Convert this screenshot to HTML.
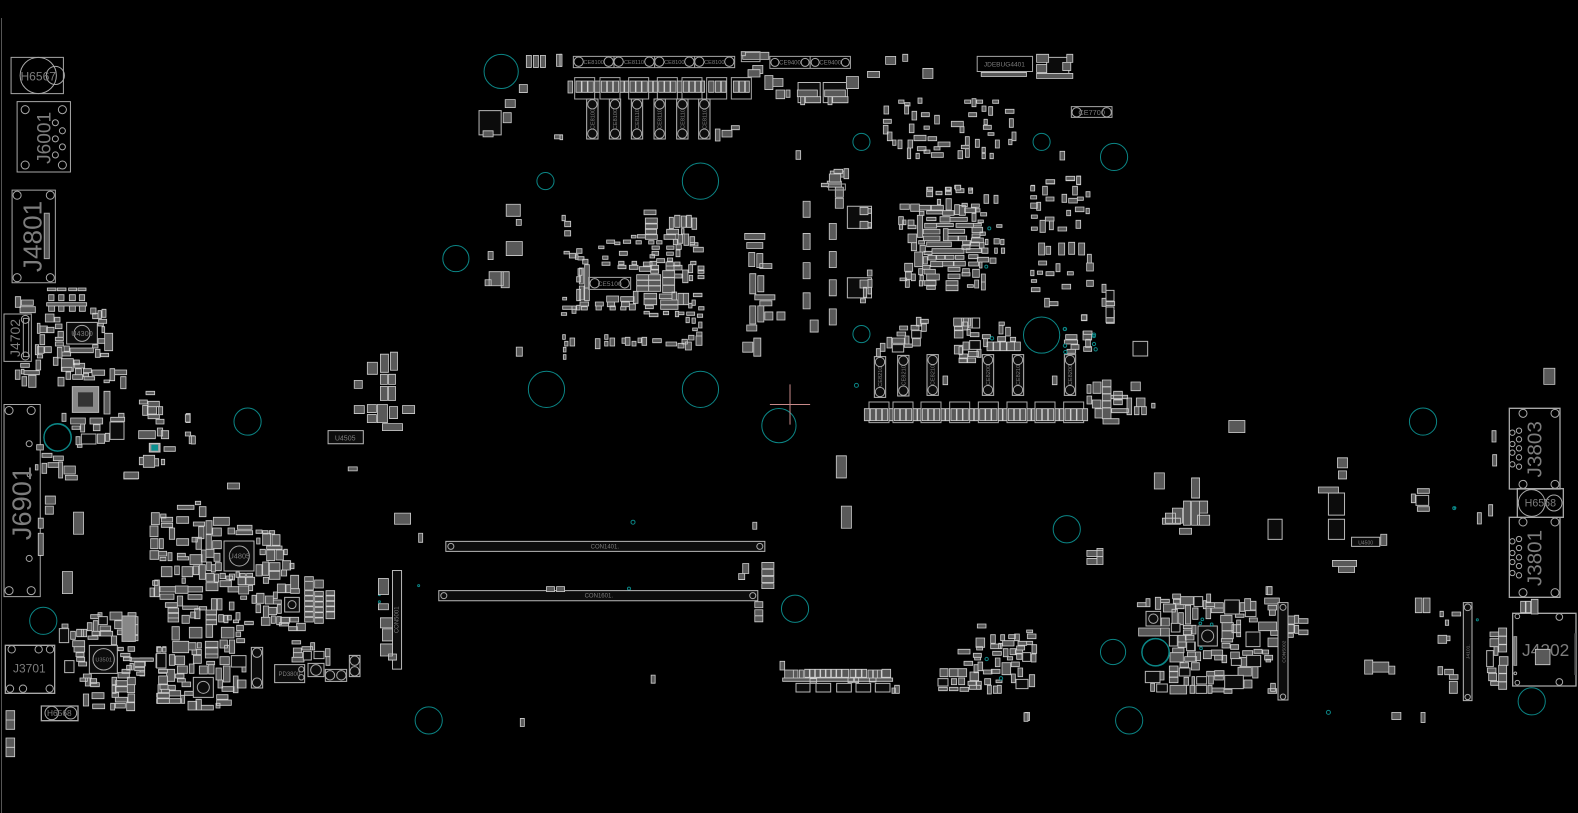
<!DOCTYPE html>
<html><head><meta charset="utf-8"><title>Board</title>
<style>
html,body{margin:0;padding:0;background:#000;width:1578px;height:813px;overflow:hidden}
svg{display:block}
path,rect,circle,line{vector-effect:non-scaling-stroke}
.c{fill:#595959;stroke:#cfcfcf;stroke-width:.8px}
.o{fill:none;stroke:#a8a8a8;stroke-width:1px}
.f{fill:#0c0c0c;stroke:#b8b8b8;stroke-width:1px}
.t{fill:none;stroke:#0b8585;stroke-width:1px}
text{font-family:"Liberation Sans",sans-serif;fill:#7d7d7d}
</style></head><body>
<svg width="1578" height="813" viewBox="0 0 1578 813" xmlns="http://www.w3.org/2000/svg">
<rect width="1578" height="813" fill="#000"/>
<line x1="1.5" y1="18" x2="1.5" y2="813" stroke="#555"/>

<g transform="scale(1.00638 1.00619)">
<g class="t">
<circle cx="498" cy="71" r="17"/><circle cx="542" cy="180" r="8.5"/><circle cx="696" cy="180" r="18"/><circle cx="453" cy="257" r="13"/><circle cx="856" cy="141" r="8.5"/><circle cx="1035" cy="141" r="8.5"/><circle cx="1107" cy="156" r="13.5"/><circle cx="856" cy="332" r="8.5"/><circle cx="1035" cy="333" r="18"/><circle cx="543" cy="387" r="18"/><circle cx="696" cy="387" r="18"/><circle cx="774" cy="423" r="17"/><circle cx="246" cy="419" r="13.5"/><circle cx="57" cy="435" r="13.5"/><circle cx="1414" cy="419" r="13.5"/><circle cx="1060" cy="526" r="13.5"/><circle cx="790" cy="605" r="13.5"/><circle cx="43" cy="617" r="13.5"/><circle cx="1106" cy="648" r="12.5"/><circle cx="1148" cy="648" r="13.5"/><circle cx="426" cy="716" r="13.5"/><circle cx="1122" cy="716" r="13.5"/><circle cx="1522" cy="697" r="13.5"/><circle cx="851" cy="383" r="2"/><circle cx="629" cy="519" r="2"/><circle cx="625" cy="585" r="1.5"/><circle cx="1320" cy="708" r="2"/><circle cx="1445" cy="505" r="1.5"/><circle cx="983" cy="227" r="1.5"/><circle cx="980" cy="265" r="1.5"/><circle cx="1087" cy="334" r="1.5"/><circle cx="1058" cy="327" r="1.5"/><circle cx="416" cy="582" r="1"/><circle cx="377" cy="591" r="1"/><circle cx="377" cy="598" r="1"/><circle cx="1468" cy="616" r="1"/>
</g>
<path d="M785 382V422M765 402H805" stroke="#c88a8a" stroke-width="1" fill="none"/>

<g class="o">
<rect x="11" y="57" width="52" height="36"/><circle cx="38" cy="75" r="18"/><circle cx="55" cy="75" r="9"/>
<rect x="17" y="101" width="53" height="70"/><circle cx="25" cy="109" r="4"/><circle cx="62" cy="109" r="4"/><circle cx="25" cy="164" r="4"/><circle cx="62" cy="164" r="4"/><circle cx="55" cy="122" r="3"/><circle cx="62" cy="130" r="3"/><circle cx="55" cy="138" r="3"/><circle cx="62" cy="146" r="3"/><circle cx="55" cy="154" r="3"/>
<rect x="12" y="189" width="43" height="92"/><circle cx="17" cy="194" r="4"/><circle cx="50" cy="194" r="4"/><circle cx="17" cy="276" r="4"/><circle cx="50" cy="276" r="4"/><rect x="44" y="212" width="5" height="45" fill="#555"/>
<rect x="4" y="402" width="36" height="191"/><circle cx="9" cy="408" r="4"/><circle cx="31" cy="408" r="4"/><circle cx="9" cy="587" r="4"/><circle cx="31" cy="587" r="4"/><circle cx="29" cy="441" r="3"/><circle cx="29" cy="472" r="2"/><circle cx="29" cy="555" r="3"/>
</g>
<text x="38" y="80" font-size="12" text-anchor="middle">H6567</text>
<text transform="translate(50 137) rotate(-90)" font-size="19" text-anchor="middle">J6001</text>
<text transform="translate(41 235) rotate(-90)" font-size="26" text-anchor="middle">J4801</text>
<text transform="translate(31 500) rotate(-90)" font-size="27" text-anchor="middle">J6901</text>

<path class="f" d="M326 428h35v13h-35z"/><text x="343" y="438" font-size="7" text-anchor="middle">U4505</text>
<path class="f" d="M443 538h317v10h-317zM436 587h317v10h-317z"/>
<circle class="o" cx="448" cy="543" r="3"/><circle class="o" cx="755" cy="543" r="3"/><circle class="o" cx="441" cy="592" r="3"/><circle class="o" cx="748" cy="592" r="3"/>
<text x="601" y="545" font-size="6" text-anchor="middle">CON1401.</text><text x="595" y="594" font-size="6" text-anchor="middle">CON1601.</text>

<path class="o" d="M765 56h40v12h-40zM805 56h40v12h-40z"/><text x="785" y="64" font-size="6" text-anchor="middle">CE9400</text><text x="825" y="64" font-size="6" text-anchor="middle">CE9400</text>
<g class="o"><circle cx="770" cy="62" r="4"/><circle cx="800" cy="62" r="4"/><circle cx="810" cy="62" r="4"/><circle cx="840" cy="62" r="4"/></g>
<path class="o" d="M971 56h55v15h-55z"/><text x="998" y="66" font-size="6.5" text-anchor="middle">JDEBUG4401</text>
<path class="f" d="M476 110h22v24h-22zM390 567h9v98h-9zM1040 57h22v18h-22zM793 82h22v20h-22zM818 82h24v20h-24zM1320 490h16v22h-16zM1320 516h16v20h-16zM1260 516h14v20h-14zM842 276h24v20h-24zM842 205h24v22h-24zM1343 534h28v9h-28z"/>
<text transform="translate(396 616) rotate(-90)" font-size="6" text-anchor="middle">CON5001</text>
<text x="1357" y="541" font-size="5" text-anchor="middle">U4500</text>

<path class="c" d="M523 55h5v12h-5zM530 55h5v12h-5zM537 55h5v12h-5zM553 54h5v12h-5zM738 52h26v7h-26zM760 75h8v14h-8zM768 78h10v8h-10zM748 65h10v8h-10zM841 76h12v12h-12zM862 71h12v6h-12zM880 56h10v8h-10zM897 54h5v7h-5zM917 68h10v10h-10zM975 72h45v4h-45zM1030 54h12v8h-12zM1030 64h10v8h-10zM1030 73h36v5h-36zM1060 54h6v8h-6zM1056 62h8v8h-8zM516 84h8v8h-8zM502 99h10v8h-10zM500 112h8v10h-8zM480 130h10v6h-10zM551 134h8v4h-8zM503 203h14v12h-14zM513 218h5v6h-5zM503 240h16v14h-16zM485 250h5v8h-5zM486 270h14v14h-14zM482 278h6v6h-6zM498 270h8v16h-8zM513 345h6v9h-6z"/>
<path class="c" d="M740 232h20v6h-20zM742 241h16v6h-16zM744 251h6v14h-6zM752 252h6v14h-6zM755 262h12v5h-12zM745 272h6v20h-6zM753 274h6v16h-6zM750 293h20v5h-20zM755 299h12v5h-12zM745 304h6v18h-6zM753 304h6v16h-6zM742 323h10v6h-10zM760 310h8v8h-8zM772 310h8v8h-8zM738 340h10v10h-10zM749 336h7v18h-7zM798 200h7v16h-7zM824 222h7v16h-7zM798 232h7v16h-7zM798 261h7v16h-7zM824 250h7v16h-7zM798 291h7v16h-7zM824 278h7v16h-7zM824 307h7v16h-7zM805 318h8v12h-8zM822 180h14v6h-14zM825 170h18v6h-18zM830 197h8v10h-8zM830 186h8v10h-8zM855 297h5v4h-5z"/>
<path class="c" d="M346 464h9v4h-9zM352 378h8v8h-8zM365 360h10v12h-10zM378 352h8v18h-8zM388 350h7v18h-7zM378 372h7v10h-7zM386 372h7v10h-7zM378 384h7v14h-7zM386 384h7v14h-7zM352 403h10v8h-10zM365 402h9v8h-9zM375 402h10v18h-10zM365 412h9v8h-9zM387 404h8v12h-8zM400 403h12v8h-12zM380 421h20v7h-20zM185 411h4v9h-4zM188 433h5v8h-5zM226 480h12v6h-12zM123 470h14v6h-14zM73 509h10v22h-10zM62 568h10v22h-10zM45 493h10v8h-10zM45 503h8v8h-8zM38 515h5v10h-5zM38 530h5v22h-5zM392 510h16v11h-16zM416 530h4v9h-4zM748 519h4v7h-4zM831 453h10v22h-10zM836 503h10v22h-10zM738 560h6v10h-6zM734 570h6v6h-6zM757 559h12v6h-12zM757 566h12v6h-12zM757 573h12v6h-12zM757 580h12v5h-12zM543 583h8v5h-8zM553 583h8v5h-8zM750 598h8v6h-8zM750 606h8v6h-8zM750 612h8v6h-8zM647 671h4v8h-4zM517 714h4v8h-4zM376 575h10v16h-10zM376 600h10v6h-10zM378 614h12v10h-12zM380 625h10v12h-10zM378 640h12v12h-12zM386 650h8v6h-8z"/>
<path class="c" d="M1080 547h16v6h-16zM1090 545h6v16h-6zM1080 555h10v6h-10zM1221 418h16v12h-16zM1147 470h10v16h-10zM1184 475h8v20h-8zM1158 510h10v10h-10zM1165 505h10v15h-10zM1176 498h7v24h-7zM1184 498h8v24h-8zM1192 498h8v12h-8zM1190 512h12v10h-12zM1172 525h12v6h-12zM1155 515h18v6h-18zM1329 455h10v10h-10zM1330 468h8v8h-8zM1310 484h20v6h-20zM1372 531h6v11h-6zM1324 557h24v6h-24zM1330 563h16v6h-16zM1534 366h11v16h-11zM1258 583h6v8h-6zM1383 708h9v7h-9zM1412 708h4v10h-4zM1019 708h4v8h-4zM1356 656h8v14h-8zM1364 658h16v10h-16zM1380 662h6v8h-6z"/>
</g>

<g transform="translate(0 280) scale(.33333)">
<path class="o" d="M12 102h82v142h-82zM70 115h16v115h-16z"/>
<circle class="o" cx="76" cy="118" r="12"/><circle class="o" cx="76" cy="228" r="12"/>
<text transform="translate(60 174) rotate(-90)" font-size="42" text-anchor="middle">J4702</text>
<path class="c" d="M142 24h26v8h-26zM172 24h26v8h-26zM206 24h24v8h-24zM234 24h24v8h-24zM146 44h16v18h-16zM176 44h16v18h-16zM208 44h18v18h-18zM238 44h16v18h-16zM46 50h16v32h-16zM64 60h36v16h-36zM60 80h46v18h-46zM140 68h120v10h-120zM146 78h18v16h-18zM176 78h16v16h-16zM208 78h18v16h-18zM238 78h18v16h-18zM272 84h16v18h-16zM278 100h16v16h-16zM294 92h10v24h-10zM306 88h12v24h-12zM296 118h24v12h-24zM294 130h16v8h-16zM306 140h8v18h-8zM136 102h26v24h-26zM164 112h16v14h-16zM112 130h8v30h-8zM120 138h22v20h-22zM140 142h22v16h-22zM166 132h20v14h-20zM174 154h16v18h-16zM166 172h24v10h-24zM166 186h24v12h-24zM120 164h14v30h-14zM106 194h10v30h-10zM112 200h20v20h-20zM134 200h20v18h-20zM112 224h16v10h-16zM172 202h14v32h-14zM192 198h16v16h-16zM186 216h26v12h-26zM210 204h70v14h-70zM278 194h16v10h-16zM286 208h14v24h-14zM302 220h24v10h-24zM294 176h20v14h-20zM314 160h24v52h-24zM160 232h14v24h-14zM184 236h36v38h-36zM186 262h30v12h-30zM198 276h14v22h-14zM222 240h16v14h-16zM224 250h30v14h-30zM226 266h18v18h-18zM218 284h30v14h-30zM250 266h24v12h-24zM250 280h16v10h-16zM252 290h32v10h-32zM276 270h38v16h-38zM330 266h14v36h-14zM344 270h36v14h-36zM312 300h16v8h-16zM362 290h16v36h-16zM62 250h26v12h-26zM46 270h14v28h-14zM64 268h8v14h-8zM72 272h46v12h-46zM108 240h14v30h-14zM66 290h14v28h-14zM86 286h22v36h-22zM174 292h18v26h-18z"/>
<path class="c" d="M312 334h18v68h-18zM186 400h12v24h-12zM212 414h44v18h-44zM270 414h38v18h-38zM332 412h42v12h-42zM356 400h16v12h-16zM216 438h24v10h-24zM242 432h12v24h-12zM280 434h20v18h-20zM228 470h12v24h-12zM232 494h14v8h-14zM292 462h22v28h-22zM316 460h12v24h-12zM110 494h20v16h-20zM126 520h30v12h-30zM160 528h30v14h-30zM144 548h32v14h-32zM176 546h12v48h-12zM126 550h14v30h-14zM106 554h8v16h-8zM192 558h34v24h-34zM196 586h36v14h-36zM372 576h44v20h-44zM438 334h26v10h-26zM418 360h24v12h-24zM444 364h34v16h-34zM428 376h14v30h-14zM444 380h26v22h-26zM476 380h12v24h-12zM444 404h34v12h-34zM468 418h24v14h-24zM416 452h50v24h-50zM472 444h16v24h-16zM484 452h22v24h-22zM556 404h14v22h-14zM556 456h16v12h-16zM574 468h12v24h-12zM492 500h34v14h-34zM418 532h12v22h-12zM430 526h34v36h-34zM464 536h12v22h-12zM484 538h10v16h-10z"/>
<path class="f" d="M200 127h92v65h-92z"/><circle class="o" cx="246" cy="160" r="24"/><text x="246" y="168" font-size="22" text-anchor="middle">U4300</text>
<path d="M217 320h79v77h-79z" fill="#888" stroke="#bbb" stroke-width="1"/><path d="M234 337h45v43h-45z" fill="#333"/>
<path class="f" d="M330 426h42v52h-42zM244 462h44v30h-44z"/>
<path d="M448 490h32v26h-32z" fill="#999" stroke="#ccc" stroke-width="1"/><path d="M454 494h20v18h-20z" fill="#0b8f8f"/>
<circle class="t" cx="173" cy="472" r="41" style="stroke-width:1.3px"/>
</g>

<g transform="translate(140 490) scale(.33333)">
<path class="c" d="M112 46h50v12h-50zM166 34h16v10h-16zM178 50h20v30h-20zM34 68h24v36h-24zM62 72h16v12h-16zM64 82h34v14h-34zM64 100h34v12h-34zM110 80h36v20h-36zM88 114h16v34h-16zM30 108h24v32h-24zM32 146h22v30h-22zM58 146h12v30h-12zM110 146h36v20h-36zM160 96h34v12h-34zM198 92h18v40h-18zM176 110h16v36h-16zM198 134h16v44h-16zM156 142h16v14h-16zM168 142h16v36h-16zM220 82h48v24h-48zM218 114h26v24h-26zM264 114h20v18h-20zM218 152h26v24h-26zM292 106h44v12h-44zM288 122h50v12h-50zM348 120h18v10h-18zM368 122h16v10h-16zM388 122h16v10h-16zM30 182h26v26h-26zM56 184h24v14h-24zM60 202h18v10h-18zM84 188h12v24h-12zM112 190h24v10h-24zM112 200h34v10h-34zM150 194h36v30h-36zM184 180h14v36h-14zM198 178h24v24h-24zM222 190h18v24h-18zM226 218h18v24h-18zM200 216h14v26h-14zM214 224h12v22h-12zM64 230h32v30h-32zM104 228h14v26h-14zM126 230h32v30h-32zM160 228h16v26h-16zM178 224h18v44h-18zM350 144h10v18h-10zM368 130h24v36h-24zM396 134h24v32h-24zM360 178h16v16h-16zM380 168h46v10h-46zM380 180h24v32h-24zM408 180h22v30h-22zM432 178h10v16h-10zM388 218h32v24h-32zM388 244h32v24h-32zM348 224h18v34h-18zM368 216h18v40h-18zM424 240h16v18h-16zM428 212h24v28h-24zM450 220h12v16h-12z"/>
<path class="c" d="M198 250h24v24h-24zM198 278h36v24h-36zM224 252h12v24h-12zM240 250h16v16h-16zM258 258h20v10h-20zM268 252h16v18h-16zM288 246h10v16h-10zM300 250h16v10h-16zM320 250h18v10h-18zM240 272h34v18h-34zM264 290h32v16h-32zM294 262h22v22h-22zM318 262h26v22h-26zM296 288h30v24h-30zM326 286h12v16h-12zM370 262h16v18h-16zM452 256h24v40h-24zM412 282h24v26h-24zM438 284h14v24h-14zM452 296h26v14h-26zM494 260h26v14h-26zM494 274h26v26h-26zM524 270h26v24h-26zM38 272h16v14h-16zM44 270h14v50h-14zM30 294h12v26h-12zM60 290h46v16h-46zM106 288h38v22h-38zM144 290h44v16h-44zM60 312h42v16h-42zM144 314h42v14h-42zM126 264h10v16h-10zM302 318h18v10h-18zM336 316h12v24h-12zM350 310h22v30h-22zM376 318h24v24h-24zM400 306h12v20h-12zM400 330h24v12h-24zM348 344h14v24h-14z"/>
<path class="c" d="M494 302h26v14h-26zM494 318h26v14h-26zM494 334h26v14h-26zM494 350h26v14h-26zM494 366h26v14h-26zM494 382h26v14h-26zM524 304h26v14h-26zM524 320h26v14h-26zM524 336h26v14h-26zM524 352h26v14h-26zM524 368h26v14h-26zM524 384h26v16h-26zM558 302h26v14h-26zM558 318h26v14h-26zM558 334h26v14h-26zM558 350h26v14h-26zM558 366h26v20h-26z"/>
<path class="c" d="M76 338h36v14h-36zM84 354h32v14h-32zM84 370h32v14h-32zM84 384h32v12h-32zM112 318h16v30h-16zM128 348h46v10h-46zM178 350h22v10h-22zM126 376h22v24h-22zM152 366h14v18h-14zM164 356h16v30h-16zM198 360h32v14h-32zM198 375h32v14h-32zM198 390h32v14h-32zM214 326h16v34h-16zM232 326h14v34h-14zM268 336h14v24h-14zM236 374h14v22h-14zM252 376h12v22h-12zM262 376h12v14h-12zM288 368h12v22h-12zM280 390h16v8h-16zM314 394h26v10h-26zM370 348h16v34h-16zM386 352h24v22h-24zM412 344h12v26h-12zM364 382h26v24h-26zM394 378h12v22h-12zM410 380h14v24h-14zM422 382h26v18h-26zM450 382h26v14h-26zM418 398h28v10h-28zM446 410h26v12h-26zM470 400h26v22h-26z"/>
<path class="c" d="M96 410h22v40h-22zM148 412h38v32h-38zM198 404h20v38h-20zM244 412h38v32h-38zM290 406h20v16h-20zM288 426h14v14h-14zM290 446h24v12h-24zM456 452h26v10h-26zM460 474h24v14h-24zM460 488h28v14h-28zM456 502h36v14h-36zM486 470h32v10h-32zM512 458h12v22h-12zM556 476h14v24h-14zM558 500h12v26h-12zM0 504h36v8h-36zM0 514h16v14h-16zM0 532h14v26h-14zM50 470h12v16h-12zM68 470h10v16h-10zM88 494h16v32h-16zM106 498h28v26h-28zM98 454h48v34h-48zM146 458h22v22h-22zM172 458h12v16h-12zM156 480h14v14h-14zM170 478h14v16h-14zM196 454h38v18h-38zM196 474h38v18h-38zM196 492h38v12h-38zM240 450h22v24h-22zM254 466h14v20h-14zM268 450h16v40h-16zM160 496h24v24h-24zM240 500h28v24h-28zM306 522h12v24h-12zM56 538h24v12h-24zM80 538h24v36h-24zM60 558h22v24h-22zM106 552h26v12h-26zM112 566h24v10h-24zM112 528h30v22h-30zM148 522h14v28h-14zM126 576h26v14h-26zM178 528h24v24h-24zM206 524h16v28h-16zM200 514h24v10h-24zM228 534h16v36h-16zM250 528h20v48h-20zM234 570h14v24h-14zM280 558h14v50h-14zM292 570h26v24h-26zM246 590h36v14h-36zM54 584h28v24h-28zM80 586h26v14h-26zM50 610h36v12h-36zM86 602h36v16h-36zM50 626h36v14h-36zM84 626h40v14h-40zM122 616h12v24h-12zM134 604h26v12h-26zM230 614h34v14h-34zM230 630h44v16h-44zM228 640h12v14h-12zM144 634h26v26h-26zM168 628h16v32h-16zM184 646h36v14h-36z"/>
<path class="f" d="M252 153h90v90h-90zM434 322h44v44h-44zM160 562h60v60h-60zM490 484h24v26h-24zM522 484h30v22h-30zM48 492h30v40h-30zM274 497h44v34h-44zM334 472h34v122h-34zM404 524h90v54h-90zM504 520h48v40h-48zM556 538h64v36h-64zM628 496h32v64h-32z"/>
<g class="o"><circle cx="298" cy="198" r="30"/><circle cx="456" cy="344" r="12"/><circle cx="190" cy="592" r="18"/><circle cx="351" cy="488" r="14"/><circle cx="351" cy="578" r="14"/><circle cx="528" cy="540" r="16"/><circle cx="570" cy="556" r="14"/><circle cx="604" cy="556" r="14"/><circle cx="644" cy="512" r="14"/><circle cx="644" cy="544" r="14"/><circle cx="484" cy="538" r="8"/><circle cx="484" cy="562" r="8"/></g>
<text x="298" y="206" font-size="22" text-anchor="middle">U4805</text>
<text x="448" y="558" font-size="18" text-anchor="middle">PD3800</text>
</g>

<g transform="translate(550 200) scale(.33333)">
<path class="c" d="M36 46h10v16h-10zM44 64h18v16h-18zM44 92h18v16h-18zM282 30h36v14h-36zM286 54h36v18h-36zM286 70h36v16h-36zM286 88h34v14h-34zM286 104h36v14h-36zM358 52h12v34h-12zM374 46h16v36h-16zM394 48h14v34h-14zM410 46h14v36h-14zM426 54h14v34h-14zM350 88h36v14h-36zM342 104h36v14h-36zM394 86h8v16h-8zM402 102h14v34h-14zM384 104h14v26h-14zM370 118h12v16h-12zM420 110h14v24h-14zM420 128h24v10h-24zM430 142h30v14h-30zM244 106h14v8h-14zM262 104h24v10h-24zM170 120h24v10h-24zM194 126h16v8h-16zM220 120h22v10h-22zM258 122h16v10h-16zM296 122h16v10h-16zM320 122h16v10h-16zM146 138h16v8h-16zM306 138h22v10h-22zM306 154h20v12h-20zM350 138h22v10h-22zM350 156h20v10h-20zM378 134h16v14h-16zM378 150h12v20h-12zM42 154h16v8h-16zM80 146h16v14h-16zM58 160h20v14h-20zM76 164h8v14h-8zM84 170h18v10h-18zM98 178h16v14h-16zM158 168h16v10h-16zM156 186h24v10h-24zM208 154h24v12h-24zM206 184h16v10h-16zM204 196h24v10h-24zM246 184h14v10h-14zM238 196h26v12h-26zM280 186h26v12h-26zM268 200h34v14h-34zM300 164h14v10h-14zM300 184h20v12h-20zM304 196h22v12h-22zM302 210h24v10h-24zM320 176h24v12h-24zM352 174h16v10h-16zM348 186h22v12h-22zM348 198h24v12h-24zM374 186h16v12h-16zM372 196h24v14h-24zM372 222h24v12h-24zM422 184h16v10h-16zM416 194h12v24h-12zM398 210h16v38h-16zM444 198h18v12h-18zM444 212h18v8h-18zM444 226h18v10h-18zM418 226h10v16h-10zM430 280h26v10h-26z"/>
<path class="c" d="M84 206h12v20h-12zM88 204h12v48h-12zM104 194h14v70h-14zM80 230h12v16h-12zM80 268h12v34h-12zM88 258h14v42h-14zM104 264h14v38h-14zM260 224h36v16h-36zM296 224h36v16h-36zM260 241h36v16h-36zM296 241h36v16h-36zM260 258h36v16h-36zM296 258h36v16h-36zM338 212h36v20h-36zM338 233h36v22h-36zM338 256h36v22h-36zM328 282h38v14h-38zM366 276h14v24h-14zM384 280h16v34h-16zM400 280h16v34h-16zM282 280h38v16h-38zM282 297h38v17h-38zM286 316h24v10h-24zM332 300h52v14h-52zM332 315h52v13h-52zM170 288h36v18h-36zM212 290h40v14h-40zM250 274h14v36h-14zM136 306h24v12h-24zM172 306h22v14h-22zM214 306h24v14h-24zM238 312h18v18h-18zM138 318h16v12h-16zM180 318h16v12h-16zM212 320h16v10h-16zM38 292h12v8h-12zM38 318h40v10h-40zM66 318h12v22h-12zM34 338h16v8h-16zM80 316h10v14h-10zM90 306h26v12h-26zM94 320h18v10h-18zM282 334h16v8h-16zM298 340h26v10h-26zM340 334h16v10h-16zM376 334h10v16h-10zM386 336h16v8h-16zM410 336h24v10h-24zM442 342h16v10h-16zM408 352h10v16h-10zM426 354h10v16h-10zM446 320h16v10h-16zM426 300h10v16h-10zM416 310h10v14h-10zM428 384h14v8h-14zM446 366h10v18h-10zM440 396h16v12h-16zM416 406h16v14h-16zM438 408h18v28h-18zM406 426h18v24h-18zM384 430h18v14h-18zM396 418h16v14h-16zM348 426h32v12h-32zM308 416h26v12h-26zM276 412h14v24h-14zM264 414h10v14h-10zM226 412h14v24h-14zM216 414h10v16h-10zM246 424h12v14h-12zM180 414h14v24h-14zM164 404h10v14h-10zM164 424h10v14h-10zM136 416h14v30h-14zM60 414h14v24h-14zM44 424h10v14h-10zM38 404h8v14h-8zM40 442h8v14h-8zM40 464h8v14h-8z"/>
<path class="o" d="M116 232h126v36h-126z"/><circle class="o" cx="134" cy="250" r="14"/><circle class="o" cx="224" cy="250" r="14"/>
<text x="179" y="258" font-size="20" text-anchor="middle">CE5100</text>
</g>

<g transform="translate(860 170) scale(.33333)">
<path class="c" d="M200 52h18v12h-18zM200 64h18v16h-18zM228 64h18v10h-18zM256 52h18v10h-18zM256 64h18v10h-18zM284 46h18v10h-18zM288 56h24v12h-24zM326 54h12v16h-12zM372 74h14v26h-14zM402 76h12v24h-12zM120 102h28v16h-28zM152 102h26v22h-26zM178 106h34v14h-34zM214 106h36v14h-36zM232 88h10v16h-10zM258 86h16v34h-16zM200 122h48v10h-48zM248 122h34v14h-34zM284 104h14v30h-14zM298 106h18v30h-18zM314 114h34v14h-34zM306 100h16v10h-16zM334 102h24v10h-24zM346 116h14v10h-14zM362 128h18v10h-18zM336 130h12v24h-12zM354 150h16v8h-16zM178 124h14v12h-14zM172 136h16v66h-16zM200 142h28v10h-28zM240 140h30v16h-30zM270 142h52v12h-52zM194 160h36v14h-36zM230 160h50v10h-50zM288 160h52v12h-52zM340 160h24v8h-24zM336 172h32v16h-32zM410 164h16v8h-16zM116 140h14v24h-14zM128 150h10v14h-10zM144 150h18v16h-18zM144 166h24v10h-24zM118 164h10v14h-10zM190 178h50v14h-50zM250 176h14v36h-14zM264 178h50v12h-50zM336 192h24v10h-24zM360 186h16v10h-16zM144 192h26v26h-26zM154 218h16v24h-16zM190 198h50v14h-50zM264 198h30v14h-30zM296 198h24v14h-24zM334 204h36v14h-36zM308 212h24v12h-24zM200 216h74v14h-74zM306 226h24v12h-24zM330 216h28v12h-28zM358 218h14v16h-14zM376 208h8v16h-8zM402 206h16v16h-16zM422 208h10v16h-10zM176 212h18v10h-18zM180 226h16v20h-16zM216 236h96v14h-96zM318 236h46v12h-46zM366 234h18v16h-18zM404 234h8v16h-8zM424 234h10v16h-10zM192 244h24v10h-24zM164 246h24v44h-24zM190 260h12v22h-12zM204 256h24v14h-24zM230 256h24v12h-24zM256 256h26v12h-26zM286 256h26v12h-26zM326 254h28v12h-28zM352 262h34v14h-34zM390 264h18v16h-18zM212 274h36v16h-36zM248 274h34v14h-34zM280 274h36v14h-36zM326 276h30v12h-30zM358 276h8v18h-8zM264 292h36v12h-36zM134 280h24v24h-24zM188 286h22v12h-22zM176 296h12v18h-12zM192 298h34v14h-34zM308 296h20v12h-20zM338 298h20v24h-20zM306 308h24v10h-24zM264 312h36v14h-36zM200 312h38v18h-38zM136 306h18v22h-18zM154 312h12v20h-12zM180 316h10v16h-10zM120 324h20v8h-20zM136 330h12v22h-12zM178 332h10v16h-10zM192 332h36v14h-36zM200 348h26v10h-26zM258 332h36v14h-36zM258 346h36v16h-36zM322 344h18v8h-18zM344 330h12v24h-12zM364 312h12v24h-12zM364 336h12v24h-12zM0 112h24v22h-24zM24 116h10v14h-10zM0 154h24v22h-24zM24 158h10v14h-10zM22 300h14v18h-14zM0 330h24v24h-24zM24 328h12v24h-12zM10 352h10v30h-10zM24 352h10v20h-10z"/>
</g>

<g transform="translate(560 45) scale(.33333)">
<path class="o" d="M40 34h484v34h-484zM162 34v34M284 34v34M404 34v34"/>
<g class="o"><circle cx="56" cy="50" r="14"/><circle cx="146" cy="50" r="14"/><circle cx="176" cy="50" r="14"/><circle cx="268" cy="50" r="14"/><circle cx="298" cy="50" r="14"/><circle cx="388" cy="50" r="14"/><circle cx="418" cy="50" r="14"/><circle cx="508" cy="50" r="14"/></g>
<g font-size="17" text-anchor="middle"><text x="101" y="57">CE8100</text><text x="222" y="57">CE8110</text><text x="343" y="57">CE8100</text><text x="463" y="57">CE8100</text></g>
<path class="o" d="M44 98h60v64h-60zM120 98h60v64h-60zM206 98h60v64h-60zM292 98h60v64h-60zM366 98h60v64h-60zM440 98h60v64h-60zM514 98h60v64h-60z"/>
<path class="c" d="M48 108h16v34h-16zM66 108h16v34h-16zM84 108h16v34h-16zM104 108h16v34h-16zM124 108h16v34h-16zM142 108h16v34h-16zM160 108h16v34h-16zM180 108h12v34h-12zM194 108h12v34h-12zM210 108h16v34h-16zM228 108h16v34h-16zM246 108h16v34h-16zM266 108h12v34h-12zM280 108h12v34h-12zM296 108h16v34h-16zM314 108h16v34h-16zM332 108h16v34h-16zM370 108h16v34h-16zM388 108h16v34h-16zM406 108h16v34h-16zM446 108h16v34h-16zM466 108h16v34h-16zM484 108h14v34h-14zM520 108h16v34h-16zM538 108h16v34h-16zM556 108h12v34h-12zM352 108h14v34h-14zM424 108h10v34h-10z"/>
<path class="f" d="M80 162h34v120h-34zM148 162h34v120h-34zM214 162h34v120h-34zM282 162h34v120h-34zM350 162h34v120h-34zM416 162h34v120h-34z"/>
<g class="o"><circle cx="97" cy="178" r="14"/><circle cx="97" cy="266" r="14"/><circle cx="165" cy="178" r="14"/><circle cx="165" cy="266" r="14"/><circle cx="231" cy="178" r="14"/><circle cx="231" cy="266" r="14"/><circle cx="299" cy="178" r="14"/><circle cx="299" cy="266" r="14"/><circle cx="367" cy="178" r="14"/><circle cx="367" cy="266" r="14"/><circle cx="433" cy="178" r="14"/><circle cx="433" cy="266" r="14"/></g>
<g font-size="17" text-anchor="middle"><text transform="translate(103 222) rotate(-90)">CE8100</text><text transform="translate(171 222) rotate(-90)">CE8100</text><text transform="translate(237 222) rotate(-90)">CE8110</text><text transform="translate(305 222) rotate(-90)">CE8110</text><text transform="translate(373 222) rotate(-90)">CE8110</text><text transform="translate(439 222) rotate(-90)">CE8110</text></g>
<path class="c" d="M24 108h14v36h-14zM466 252h14v36h-14zM486 256h30v20h-30zM514 242h24v12h-24zM0 28h6v36h-6zM0 270h8v14h-8zM564 74h36v22h-36zM544 20h12v12h-12z"/>
<path class="o" d="M544 20h56v30h-56z"/>
</g>

<g transform="translate(1130 580) scale(.33333)">
<path class="c" d="M22 68h26v12h-26zM48 56h12v24h-12zM76 52h16v36h-16zM92 58h26v10h-26zM100 72h36v24h-36zM128 42h24v14h-24zM130 58h20v12h-20zM152 50h38v24h-38zM220 62h8v24h-8zM230 42h12v24h-12zM228 68h26v12h-26zM254 68h26v16h-26zM244 84h36v14h-36zM330 68h14v26h-14zM344 56h18v36h-18zM362 64h16v26h-16zM228 84h14v32h-14zM188 84h16v34h-16zM146 98h14v36h-14zM166 76h16v56h-16zM126 88h16v44h-16zM138 74h24v12h-24zM94 114h24v24h-24zM26 144h66v24h-66zM92 144h26v24h-26zM160 136h26v10h-26zM160 150h24v14h-24zM186 136h12v26h-12zM144 166h24v20h-24zM166 166h26v14h-26zM144 186h24v16h-24zM170 186h26v26h-26zM128 204h34v14h-34zM120 218h40v28h-40zM164 230h36v14h-36zM196 216h16v26h-16zM172 216h24v14h-24zM220 212h24v24h-24zM244 210h34v16h-34zM254 226h24v14h-24zM276 226h14v22h-14zM302 216h26v20h-26zM302 194h24v14h-24zM272 106h34v22h-34zM316 102h26v10h-26zM358 114h24v12h-24zM276 128h34v24h-34zM276 153h34v23h-34zM306 134h26v24h-26zM320 120h12v50h-12zM274 176h34v10h-34zM276 190h24v14h-24zM386 126h54v26h-54zM422 152h26v14h-26zM414 174h40v26h-40zM338 212h30v14h-30zM372 208h24v12h-24zM398 210h18v12h-18zM330 232h24v28h-24zM404 226h24v14h-24zM408 238h14v8h-14zM150 248h26v14h-26zM184 248h24v22h-24zM118 258h26v16h-26zM118 275h26v16h-26zM118 292h26v16h-26zM90 274h12v26h-12zM230 274h24v14h-24zM254 272h28v14h-28zM254 288h26v12h-26zM186 290h8v26h-8zM162 292h14v24h-14zM236 288h14v24h-14zM342 300h24v24h-24zM120 316h50v26h-50zM180 316h14v24h-14zM234 316h12v24h-12zM246 324h36v12h-36zM282 328h24v12h-24zM62 310h12v24h-12zM324 262h40v26h-40zM368 260h16v34h-16zM404 54h44v18h-44zM412 20h14v24h-14zM414 76h26v14h-26zM418 90h18v16h-18zM462 108h32v24h-32zM462 134h30v24h-30zM466 160h24v12h-24zM494 106h12v24h-12zM506 116h28v14h-28zM494 136h12v24h-12zM506 150h28v14h-28zM422 310h14v24h-14zM414 326h26v14h-26z"/>
<path class="f" d="M192 50h26v30h-26zM284 60h44v42h-44zM48 94h44v44h-44zM124 130h26v26h-26zM204 138h58v60h-58zM118 166h24v32h-24zM170 186h24v26h-24zM348 156h42v44h-42zM346 92h32v18h-32zM304 236h30v20h-30zM350 226h42v34h-42zM148 264h32v24h-32zM46 274h44v34h-44zM200 290h30v22h-30zM284 286h56v40h-56zM198 316h32v24h-32zM80 312h32v24h-32zM444 68h30v292h-30z"/>
<g class="o"><circle cx="70" cy="116" r="14"/><circle cx="233" cy="168" r="18"/><circle cx="459" cy="82" r="9"/><circle cx="459" cy="350" r="8"/></g>
<circle class="t" cx="77" cy="217" r="41" style="stroke-width:1.3px"/>
<text transform="translate(466 215) rotate(-90)" font-size="15" text-anchor="middle">CON5002</text>
<g class="t"><circle cx="217" cy="118" r="4"/><circle cx="211" cy="130" r="4"/><circle cx="245" cy="133" r="4"/><circle cx="213" cy="205" r="4"/></g>
</g>

<g transform="translate(855 310) scale(.33333)">
<path class="f" d="M58 140h34v122h-34zM128 136h34v122h-34zM216 134h34v122h-34zM382 134h34v122h-34zM472 134h34v122h-34zM628 134h34v122h-34z"/>
<g class="o"><circle cx="75" cy="156" r="14"/><circle cx="75" cy="246" r="14"/><circle cx="145" cy="152" r="14"/><circle cx="145" cy="242" r="14"/><circle cx="233" cy="150" r="14"/><circle cx="233" cy="240" r="14"/><circle cx="399" cy="150" r="14"/><circle cx="399" cy="240" r="14"/><circle cx="489" cy="150" r="14"/><circle cx="489" cy="240" r="14"/><circle cx="645" cy="150" r="14"/><circle cx="645" cy="240" r="14"/></g>
<g font-size="17" text-anchor="middle"><text transform="translate(81 200) rotate(-90)">CE8210</text><text transform="translate(151 196) rotate(-90)">CE8210</text><text transform="translate(239 195) rotate(-90)">CE8210</text><text transform="translate(405 195) rotate(-90)">CE8200</text><text transform="translate(495 195) rotate(-90)">CE8210</text><text transform="translate(651 195) rotate(-90)">CE8200</text></g>
<path class="o" d="M42 276h60v62h-60zM114 276h60v62h-60zM198 276h60v62h-60zM284 276h60v62h-60zM370 276h60v62h-60zM456 276h60v62h-60zM540 276h60v62h-60zM626 276h60v62h-60z"/>
<path class="c" d="M28 296h16v36h-16zM46 296h16v36h-16zM64 296h16v36h-16zM82 296h16v36h-16zM102 296h12v36h-12zM118 296h16v36h-16zM136 296h16v36h-16zM154 296h16v36h-16zM174 296h12v36h-12zM188 296h10v36h-10zM202 296h16v36h-16zM220 296h16v36h-16zM238 296h16v36h-16zM258 296h12v36h-12zM272 296h12v36h-12zM288 296h16v36h-16zM306 296h16v36h-16zM324 296h16v36h-16zM344 296h12v36h-12zM358 296h12v36h-12zM374 296h16v36h-16zM392 296h16v36h-16zM410 296h16v36h-16zM430 296h12v36h-12zM444 296h12v36h-12zM460 296h16v36h-16zM478 296h16v36h-16zM496 296h16v36h-16zM516 296h12v36h-12zM530 296h10v36h-10zM544 296h16v36h-16zM562 296h16v36h-16zM580 296h16v36h-16zM600 296h12v36h-12zM614 296h12v36h-12zM630 296h16v36h-16zM648 296h16v36h-16zM666 296h16v36h-16zM682 296h16v36h-16z"/>
<path class="c" d="M64 116h12v24h-12zM76 100h14v24h-14zM96 82h14v32h-14zM112 84h36v16h-36zM126 66h26v12h-26zM134 48h24v12h-24zM168 46h24v14h-24zM150 78h12v24h-12zM172 86h24v22h-24zM148 102h24v10h-24zM184 22h14v26h-14zM196 28h24v12h-24zM200 42h14v22h-14zM296 24h30v24h-30zM320 24h26v24h-26zM340 24h12v30h-12zM322 36h16v24h-16zM298 50h24v10h-24zM298 62h26v22h-26zM336 58h10v18h-10zM346 68h26v12h-26zM324 96h18v24h-18zM298 106h26v26h-26zM312 110h10v24h-10zM314 132h24v14h-24zM312 144h24v14h-24zM340 124h30v16h-30zM338 144h24v14h-24zM366 118h12v24h-12zM382 74h24v12h-24zM386 86h12v24h-12zM396 96h18v26h-18zM416 96h18v26h-18zM436 96h18v26h-18zM456 96h22v26h-22zM478 96h18v26h-18zM432 36h16v10h-16zM432 46h12v26h-12zM452 52h14v26h-14zM428 80h24v14h-24zM466 82h16v12h-16zM264 198h14v26h-14zM592 198h14v26h-14zM680 14h16v18h-16zM754 24h24v16h-24zM632 74h34v14h-34zM628 90h40v12h-40zM648 104h24v14h-24zM636 118h26v12h-26zM684 64h26v26h-26zM692 88h14v24h-14zM686 110h24v14h-24zM696 224h12v26h-12zM696 258h14v24h-14zM714 216h24v34h-24zM712 270h26v24h-26zM720 296h22v28h-22zM742 210h26v20h-26zM742 231h26v20h-26zM742 252h26v20h-26zM742 273h26v20h-26zM742 294h26v32h-26zM744 326h48v16h-48zM776 244h26v24h-26zM776 270h26v14h-26zM768 256h50v10h-50zM770 296h50v12h-50zM816 264h14v50h-14zM828 216h28v26h-28zM844 264h26v26h-26zM838 290h14v24h-14zM860 290h14v24h-14zM890 280h10v14h-10z"/>
<path class="f" d="M170 62h28v22h-28zM112 104h34v22h-34zM352 24h22v30h-22zM344 92h32v26h-32zM834 94h44v44h-44z"/>
<path class="o" d="M754 0v24M778 0v24"/>
<g class="t"><circle cx="630" cy="57" r="5"/><circle cx="411" cy="85" r="5"/><circle cx="630" cy="107" r="5"/><circle cx="631" cy="126" r="5"/><circle cx="717" cy="74" r="5"/><circle cx="717" cy="102" r="5"/><circle cx="722" cy="118" r="5"/></g>
</g>

<g transform="translate(1400 390) scale(.33333)">
<path class="o" d="M328 55h152v242h-152zM352 296h138v86h-138zM328 382h152v240h-152zM338 670h190v218h-190z" style="stroke-width:1.3px"/>
<g class="o"><circle cx="369" cy="70" r="12"/><circle cx="465" cy="70" r="12"/><circle cx="369" cy="283" r="12"/><circle cx="465" cy="283" r="12"/><circle cx="395" cy="339" r="40"/><circle cx="462" cy="339" r="24"/><circle cx="369" cy="396" r="12"/><circle cx="465" cy="396" r="12"/><circle cx="369" cy="608" r="12"/><circle cx="465" cy="608" r="12"/><circle cx="357" cy="122" r="8"/><circle cx="337" cy="128" r="8"/><circle cx="357" cy="148" r="8"/><circle cx="337" cy="162" r="8"/><circle cx="357" cy="175" r="8"/><circle cx="337" cy="188" r="8"/><circle cx="357" cy="202" r="8"/><circle cx="337" cy="223" r="8"/><circle cx="357" cy="230" r="8"/><circle cx="357" cy="447" r="8"/><circle cx="337" cy="454" r="8"/><circle cx="357" cy="474" r="8"/><circle cx="337" cy="489" r="8"/><circle cx="357" cy="502" r="8"/><circle cx="337" cy="516" r="8"/><circle cx="357" cy="528" r="8"/><circle cx="337" cy="549" r="8"/><circle cx="357" cy="556" r="8"/><circle cx="478" cy="681" r="10"/><circle cx="478" cy="876" r="10"/><circle cx="352" cy="679" r="7"/><circle cx="352" cy="878" r="7"/><circle cx="346" cy="850" r="4"/></g>
<path d="M342 740h8v86h-8z" fill="#666" stroke="#999"/><path d="M523 730h5v125h-5z" fill="#555"/>
<text transform="translate(425 178) rotate(-90)" font-size="62" text-anchor="middle">J3803</text>
<text transform="translate(425 504) rotate(-90)" font-size="62" text-anchor="middle">J3801</text>
<text x="421" y="350" font-size="32" text-anchor="middle">H6558</text>
<text x="437" y="798" font-size="52" text-anchor="middle">J4202</text>
<path class="c" d="M276 122h12v34h-12zM278 194h12v34h-12zM266 344h12v34h-12zM232 368h12v34h-12zM52 296h36v14h-36zM52 350h36v14h-36zM34 312h12v26h-12zM46 624h20v44h-20zM70 624h20v44h-20zM120 664h10v16h-10zM156 666h26v12h-26zM136 690h10v16h-10zM114 736h26v24h-26zM140 738h10v14h-10zM114 830h14v24h-14zM134 838h26v16h-26zM148 854h26v14h-26zM148 874h24v36h-24zM270 726h26v14h-26zM270 746h26v24h-26zM296 714h24v24h-24zM296 739h24v24h-24zM296 764h24v22h-24zM282 770h12v26h-12zM298 800h26v26h-26zM296 826h24v24h-24zM296 851h24v24h-24zM296 876h24v22h-24zM262 834h26v14h-26zM266 850h24v22h-24zM272 874h24v12h-24zM362 634h14v34h-14zM378 634h14v34h-14zM394 628h20v44h-20zM406 778h44v46h-44z"/>
<path class="f" d="M48 316h38v30h-38zM190 638h26v294h-26zM260 782h20v48h-20z"/>
<g class="o"><circle cx="203" cy="652" r="10"/><circle cx="203" cy="921" r="8"/></g>
<text transform="translate(208 785) rotate(-90)" font-size="15" text-anchor="middle">J4101.</text>
<circle cx="165" cy="353" r="4" fill="#0b8585"/>
</g>

<g transform="translate(770 90) scale(.33333)">
<path class="c" d="M18 0h26v26h-26zM48 0h12v22h-12zM92 20h12v24h-12zM106 20h46v18h-46zM82 0h60v20h-60zM164 0h62v20h-62zM174 20h12v24h-12zM188 20h46v18h-46zM342 48h14v24h-14zM386 30h16v10h-16zM404 38h16v10h-16zM404 46h12v26h-12zM426 64h14v26h-14zM444 24h12v16h-12zM454 68h24v12h-24zM494 76h14v26h-14zM340 88h24v12h-24zM340 106h14v26h-14zM352 126h14v26h-14zM418 102h14v26h-14zM462 108h16v10h-16zM544 94h36v16h-36zM570 110h12v18h-12zM584 30h18v10h-18zM606 26h12v24h-12zM620 30h18v10h-18zM636 48h12v16h-12zM656 50h12v26h-12zM668 30h18v10h-18zM596 68h24v12h-24zM706 58h26v12h-26zM718 86h12v26h-12zM642 88h10v16h-10zM640 106h24v12h-24zM654 128h18v8h-18zM726 126h12v26h-12zM716 148h10v16h-10zM368 150h10v16h-10zM384 150h12v26h-12zM414 150h14v24h-14zM432 136h36v16h-36zM474 140h26v12h-26zM504 156h36v14h-36zM574 166h24v10h-24zM586 140h12v26h-12zM586 176h12v26h-12zM564 182h14v24h-14zM616 148h12v24h-12zM636 172h10v16h-10zM676 150h12v24h-12zM636 190h10v16h-10zM660 190h10v16h-10zM442 170h26v12h-26zM462 180h18v10h-18zM492 170h18v10h-18zM484 188h36v14h-36zM412 174h10v32h-10zM438 190h10v16h-10zM78 182h14v26h-14zM870 184h14v26h-14zM192 238h26v12h-26zM222 236h14v30h-14zM178 252h34v24h-34zM154 280h22v10h-22zM828 270h26v12h-26zM888 260h26v12h-26zM920 258h12v26h-12zM472 292h16v8h-16zM528 292h14v8h-14zM556 286h16v14h-16zM596 294h10v6h-10zM784 286h10v14h-10zM820 290h10v10h-10zM910 290h12v10h-12z"/>
<path class="o" d="M904 50h122v32h-122zM176 282h50v18h-50z"/>
<circle class="o" cx="920" cy="67" r="14"/><circle class="o" cx="1010" cy="67" r="14"/>
<text x="965" y="75" font-size="22" text-anchor="middle">CE7700</text>
</g>

<g transform="translate(0 590) scale(.33333)">
<path class="o" d="M16 166h148v144h-148zM124 348h110v44h-110z" style="stroke-width:1.3px"/>
<g class="o"><circle cx="35" cy="178" r="11"/><circle cx="116" cy="178" r="11"/><circle cx="150" cy="178" r="11"/><circle cx="30" cy="296" r="11"/><circle cx="69" cy="296" r="11"/><circle cx="149" cy="296" r="11"/><circle cx="155" cy="369" r="20"/><circle cx="212" cy="369" r="18"/></g>
<text x="88" y="248" font-size="36" text-anchor="middle">J3701</text>
<text x="178" y="378" font-size="25" text-anchor="middle">H6568</text>
<path class="c" d="M18 362h26v28h-26zM18 390h26v28h-26zM18 444h26v28h-26zM18 472h26v28h-26zM186 102h18v12h-18zM212 124h14v24h-14zM230 118h20v22h-20zM244 118h16v22h-16zM262 98h14v24h-14zM272 74h28v12h-28zM294 68h12v12h-12zM280 92h14v32h-14zM300 108h32v14h-32zM276 124h26v12h-26zM264 138h30v10h-30zM298 124h40v14h-40zM330 66h36v24h-36zM344 92h22v24h-22zM352 120h14v14h-14zM334 138h16v26h-16zM384 68h24v10h-24zM402 80h12v24h-12zM404 104h10v32h-10zM384 136h16v18h-16zM404 134h10v18h-10zM218 152h36v18h-36zM222 170h32v16h-32zM228 188h24v12h-24zM230 202h24v12h-24zM236 216h24v12h-24zM354 172h16v10h-16zM384 170h20v14h-20zM362 190h28v10h-28zM370 202h24v10h-24zM390 204h70v10h-70zM390 220h10v20h-10zM404 216h30v14h-30zM404 232h30v10h-30zM410 246h24v10h-24zM380 226h14v14h-14zM354 248h34v16h-34zM366 238h24v12h-24zM250 252h24v12h-24zM240 264h22v10h-22zM256 264h14v24h-14zM272 266h18v14h-18zM272 278h26v12h-26zM276 308h36v18h-36zM250 312h16v36h-16zM278 342h36v14h-36zM336 262h14v22h-14zM336 286h12v24h-12zM346 272h36v16h-36zM346 290h36v16h-36zM336 308h20v14h-20zM346 322h36v14h-36zM346 340h30v14h-30zM332 340h12v20h-12zM382 262h24v22h-24zM382 284h22v24h-22zM384 312h20v24h-20zM380 338h24v24h-24zM472 172h12v14h-12zM488 172h10v14h-10zM476 238h26v10h-26zM476 258h26v24h-26zM480 284h24v14h-24zM484 298h24v10h-24zM472 310h36v14h-36zM472 326h36v14h-36z"/>
<path class="f" d="M178 116h28v42h-28zM296 80h26v24h-26zM194 212h28v36h-28zM268 166h84v84h-84zM470 190h28v44h-28z"/>
<path d="M366 78h40v76h-40z" fill="#888" stroke="#bbb"/>
<circle class="o" cx="311" cy="208" r="32"/>
<text x="311" y="214" font-size="17" text-anchor="middle">U3501</text>
</g>

<g transform="translate(770 620) scale(.33333)">
<path class="c" d="M622 12h26v12h-26zM770 30h18v8h-18zM772 42h26v14h-26zM662 44h14v26h-14zM692 44h12v18h-12zM716 44h20v12h-20zM734 42h14v20h-14zM618 54h26v28h-26zM662 72h30v14h-30zM686 70h10v16h-10zM698 62h34v16h-34zM744 64h26v12h-26zM770 64h18v10h-18zM786 74h14v26h-14zM740 78h24v12h-24zM620 80h18v10h-18zM564 88h36v14h-36zM668 94h26v12h-26zM700 86h14v24h-14zM720 86h18v18h-18zM736 90h22v12h-22zM740 100h16v18h-16zM784 102h14v24h-14zM610 100h24v12h-24zM614 112h18v8h-18zM712 110h16v10h-16zM676 114h14v26h-14zM582 124h26v12h-26zM696 128h26v36h-26zM724 126h24v14h-24zM612 134h12v24h-12zM624 126h14v26h-14zM640 150h26v12h-26zM664 148h26v12h-26zM510 146h24v24h-24zM538 146h26v24h-26zM564 146h26v24h-26zM600 156h26v26h-26zM744 144h14v26h-14zM724 162h12v26h-12zM778 164h16v36h-16zM544 176h16v18h-16zM566 174h18v20h-18zM594 184h24v12h-24zM644 176h18v18h-18zM678 180h18v8h-18zM620 184h14v24h-14zM598 196h34v12h-34zM506 202h26v10h-26zM538 202h26v10h-26zM570 202h26v12h-26zM652 196h12v26h-12zM670 198h12v22h-12zM682 196h12v24h-12zM762 278h12v26h-12zM30 124h14v26h-14zM44 150h26v24h-26zM70 150h14v24h-14zM88 150h12v24h-12zM104 148h14v24h-14zM120 148h14v24h-14zM136 148h14v24h-14zM152 148h14v24h-14zM168 148h14v24h-14zM184 148h14v24h-14zM200 148h14v24h-14zM216 148h20v24h-20zM240 148h16v24h-16zM258 148h16v24h-16zM276 148h14v24h-14zM294 150h14v24h-14zM310 150h12v24h-12zM322 150h12v24h-12zM336 148h26v24h-26zM38 174h330v10h-330zM120 176h20v14h-20zM234 174h16v14h-16zM254 174h12v14h-12zM298 174h20v12h-20zM366 204h10v16h-10zM374 196h14v24h-14z"/>
<path class="f" d="M758 98h24v26h-24zM504 176h30v22h-30zM738 178h36v28h-36zM78 190h42v26h-42zM138 190h44v26h-44zM200 190h44v26h-44zM258 190h44v26h-44zM316 190h44v26h-44z"/>
<g class="t"><circle cx="650" cy="117" r="5"/><circle cx="693" cy="175" r="5"/></g>
</g>

<g transform="translate(1010 165) scale(.33333)">
<path class="c" d="M108 44h26v12h-26zM168 34h26v12h-26zM200 34h12v24h-12zM62 62h12v16h-12zM98 64h14v26h-14zM188 64h14v26h-14zM62 92h18v10h-18zM108 96h24v12h-24zM156 88h14v24h-14zM176 100h26v14h-26zM202 96h18v10h-18zM228 80h12v16h-12zM62 114h20v16h-20zM80 112h12v24h-12zM196 126h26v14h-26zM170 136h12v16h-12zM228 130h10v16h-10zM64 150h18v10h-18zM106 156h26v12h-26zM118 168h12v26h-12zM90 166h16v36h-16zM64 186h18v10h-18zM144 186h26v12h-26zM198 166h14v24h-14zM86 234h18v36h-18zM108 244h14v24h-14zM146 234h18v36h-18zM176 232h18v36h-18zM206 234h18v36h-18zM232 268h12v26h-12zM86 288h24v12h-24zM138 296h12v24h-12zM230 294h20v24h-20zM62 316h10v16h-10zM82 318h16v10h-16zM108 320h24v12h-24zM172 320h18v10h-18zM64 344h16v8h-16zM64 368h26v12h-26zM156 358h26v14h-26zM104 400h14v26h-14zM118 410h26v12h-26zM230 346h20v18h-20zM276 358h12v24h-12zM276 400h12v24h-12zM288 410h26v12h-26zM288 458h24v14h-24zM214 450h16v16h-16zM220 498h26v10h-26z"/>
<path class="f" d="M288 376h24v32h-24zM288 426h24v32h-24z"/>
</g>
</svg>
</body></html>
